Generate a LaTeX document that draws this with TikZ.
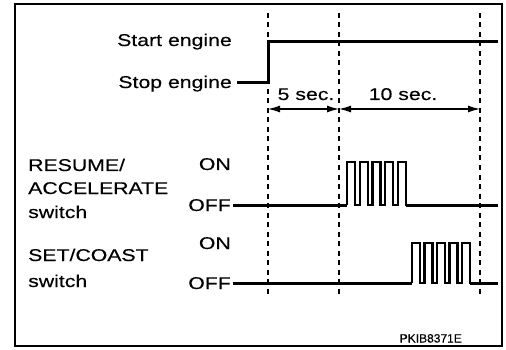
\documentclass[tikz,border=0pt]{standalone}
\usepackage{fontspec}
\setmainfont{Liberation Sans}[FakeStretch=1.25,FakeBold=0.3]
\newfontfamily\codefont{Liberation Sans}[FakeBold=0.3]
\usetikzlibrary{arrows.meta}
\begin{document}
\begin{tikzpicture}[x=1pt,y=-1pt,
  lbl/.style={inner sep=0pt, font=\fontsize{17}{20}\selectfont},
  sig/.style={line width=3pt},
  pls/.style={line width=2.3pt, line join=miter},
  gridline/.style={line width=1.3pt, dash pattern=on 5pt off 4.5pt},
  dimline/.style={line width=1.2pt, {Latex[length=12pt,width=7pt]}-{Latex[length=12pt,width=7pt]}}]
\useasboundingbox (0,0) rectangle (506,350);
\draw[line width=2.6pt] (15,4) rectangle (502,346);
% dashed time marks
\foreach \x/\n in {268/a,339/b,480/c}{
  \coordinate (top\n) at (\x,13);
  \coordinate (bot\n) at (\x,295);
  \draw[gridline] (top\n) -- (bot\n);
}
% engine
\node[lbl, anchor=base east] (start) at (232,46) {Start engine};
\node[lbl, anchor=base east] (stop) at (232,88) {Stop engine};
\coordinate (e0) at (237,83);
\coordinate (e1) at (268,83);
\coordinate (e2) at (268,42);
\coordinate (e3) at (498,42);
\draw[sig, line join=miter] (e0) -- (e1) -- (e2) -- (e3);
% durations
\coordinate (d1) at (268,109);
\coordinate (d2) at (339,109);
\coordinate (d3) at (480,109);
\draw[dimline] (d1) -- (d2);
\draw[dimline] (d2) -- (d3);
\node[lbl, anchor=base] (five) at (306,100) {5 sec.};
\node[lbl, anchor=base] (ten) at (403,100) {10 sec.};
% RESUME/ACCELERATE
\node[lbl, anchor=base west] (r1) at (28,171) {RESUME/};
\node[lbl, anchor=base west] (r2) at (28,194) {ACCELERATE};
\node[lbl, anchor=base west] (r3) at (28,218) {switch};
\node[lbl, anchor=base east] (ron) at (231,170) {ON};
\node[lbl, anchor=base east] (roff) at (231,211) {OFF};
\coordinate (ra) at (233,205);
\coordinate (rb) at (347,205);
\coordinate (rd) at (406,205);
\coordinate (rc) at (498,205);
\draw[pls] (rb) foreach \i in {1,...,5}{ -- ++(0,-43.3) -- ++(8,0) -- ++(0,43.3) -- ++(4.75,0)};
\draw[sig] (ra) -- (rb);
\draw[sig] (rd) -- (rc);
% SET/COAST
\node[lbl, anchor=base west] (s1) at (28,261) {SET/COAST};
\node[lbl, anchor=base west] (s2) at (28,287) {switch};
\node[lbl, anchor=base east] (son) at (231,249) {ON};
\node[lbl, anchor=base east] (soff) at (231,289) {OFF};
\coordinate (sa) at (233,283.3);
\coordinate (sb) at (412,283.3);
\coordinate (sd) at (470,283.3);
\coordinate (sc) at (498,283.3);
\draw[pls] (sb) foreach \i in {1,...,5}{ -- ++(0,-40) -- ++(8,0) -- ++(0,40) -- ++(4.5,0)};
\draw[sig] (sa) -- (sb);
\draw[sig] (sd) -- (sc);
% code
\node[inner sep=0pt, anchor=base east, font=\codefont\fontsize{12}{14}\selectfont] (code) at (462,342.5) {PKIB8371E};
\end{tikzpicture}
\end{document}
